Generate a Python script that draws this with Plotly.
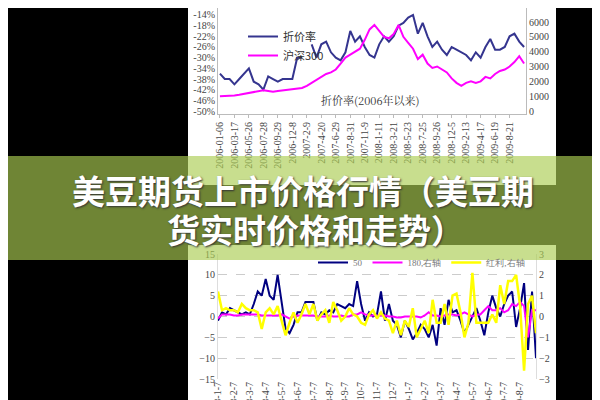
import plotly.graph_objects as go

top_ticks = ["2006-01-06","2006-03-17","2006-05-26","2006-07-28","2006-09-29","2006-12-8","2007-2-9","2007-4-20","2007-6-29","2007-8-31","2007-11-9","2008-1-11","2008-3-21","2008-5-23","2008-7-25","2008-9-26","2008-12-5","2009-2-13","2009-4-17","2009-6-19","2009-8-21"]
discount = [-36,-38,-38, -40,-38,-36, -34,-39,-40, -42,-37,-38, -39,-38,-38, -38,-30,-30,
            None,-25,-30, -25,-24,-28, -30,-31,-28, -20,-24,-22, -26,-29,-30, -25,-22,-24,
            -22,-18,-17, -15,-14,-21, -17,-22,-26, -24,-27,-29, -26,-27,-28, -29,-31,-28,
            -30,-26,-23, -27,-27,-26, -22,-21,-24, -26]
hs300 = [1000,1000,1050, 1050,1100,1150, 1200,1300,1350, 1400,1350,1300, 1350,1400,1450, 1450,1500,1550,
         1700,1900,2100, 2300,2500,2600, 2800,3200,3600, 3800,4000,4200, 4800,5500,5800, 5400,5000,4900,
         5200,5800,5000, 4600,4200,3500, 3800,3200,2900, 3000,2800,2600, 2200,1900,1700, 1900,2000,1900,
         2000,2300,2200, 2500,2700,2800, 3000,3300,3700, 3200]

bot_ticks = ["2008-1-7","2008-2-7","2008-3-7","2008-4-7","2008-5-7","2008-6-7","2008-7-7","2008-8-7","2008-9-7","2008-10-7","2008-11-7","2008-12-7","2009-1-7","2009-2-7","2009-3-7","2009-4-7","2009-5-7","2009-6-7","2009-7-7","2009-8-7"]
s50 = [-1,1,0.5,2, 1.5,1,0.5,1, 0.5,3,6,5, 9,5,4,10, 4,-3,-4,-2, 1,1,3.5,3.5, 3.5,-1,1,0.5,
       1.5,1,3,2.5, 2,3,2.5,8.5, 3,-1,1,0, 0.5,6,-1,3, -1,-2,-5,-1, -3,-5.5,-4,-2, -3,-5,-2,-7,
       2,-2,4,1, 1.5,-1,-4,-2, 0,2,-1,-4.5, 1,5,2,0, 3,5,6,-2.5, 2,8,-8,6,-10]
s180 = [-0.1,0.1,0.1,0.1, 0.05,0.05,0.1,0.1, 0.1,0.1,0.1,0.05, 0.05,0.05,0.05,0.05, 0.1,0,-0.1,0,
        0.05,0.05,0.05,0.05, 0.05,0,0,0, 0.05,0,0,0.05, 0,0,0.1,0.1, 0.2,0.1,0.05,0.05,
        0.05,0.05,0.05,0, 0,-0.05,-0.05,0, 0,0,0,-0.05, 0.05,0.2,0.05,0.05, 0,0.05,0.1,0.1,
        0.05,0.1,0.2,0.1, 0,0.1,0.1,0.3, 0.5,0.3,0.3,0.4, 0.2,0.3,0.6,0.5, 0.7,0.5,-1,0.3,0.3]
hongli = [1.2,0.3,0.4,0.3, 0.3,0.2,0.6,0.4, 0.3,0.3,0.2,-0.6, 0.2,0.4,0.1,0.5, -0.2,-0.9,-0.3,0.2,
          -0.3,0.1,0.6,0.1, 0.6,-0.2,0.1,0.3, -0.3,0.7,0.3,-0.2, 0,0.4,0.1,0, -0.3,-0.4,0.1,0.3,
          -0.1,0.2,-0.1,-0.2, -0.8,-0.2,-0.9,-0.2, -0.5,0.4,-1.0,-0.6, -0.2,-0.8,0.8,-0.3,
          -0.3,0.6,-0.4,1.0, 1.1,0.2,-1,-0.3, 2.1,-0.3,-0.3,-0.3, -0.3,0.1,-0.3,1.5,
          0.6,1.7,1.7,2.0, 0.5,-2.6,0.6,1.0,-0.8]

xt = list(range(len(discount)))
xb = list(range(len(s50)))
tf = dict(family="Liberation Serif", size=10, color="#444")
def py(p):
    return 1 - p / 400

fig = go.Figure()
fig.add_trace(go.Scatter(x=xt, y=discount, name="折价率", line=dict(color="#35358f", width=2), xaxis="x", yaxis="y", legend="legend"))
fig.add_trace(go.Scatter(x=xt, y=hs300, name="沪深300", line=dict(color="#ff00ff", width=2), xaxis="x", yaxis="y2", legend="legend"))
fig.add_trace(go.Scatter(x=xb, y=s50, name="50", line=dict(color="#000080", width=2), xaxis="x2", yaxis="y3", legend="legend2"))
fig.add_trace(go.Scatter(x=xb, y=s180, name="180,右轴", line=dict(color="#ff00ff", width=2), xaxis="x2", yaxis="y4", legend="legend2"))
fig.add_trace(go.Scatter(x=xb, y=hongli, name="红利,右轴", line=dict(color="#ffff00", width=2.5), xaxis="x2", yaxis="y4", legend="legend2"))

ax = dict(automargin=False, showgrid=False, zeroline=False, tickfont=tf)
fig.update_layout(
    width=600, height=400, margin=dict(l=0, r=0, t=0, b=0),
    paper_bgcolor="black", plot_bgcolor="rgba(0,0,0,0)",
    xaxis=dict(ax, domain=[210/600, 518/600], range=[-0.4, 63.4], tickvals=[i*3 for i in range(21)], ticktext=top_ticks,
               tickangle=-90, showline=True, linecolor="#bbb", anchor="y", ticks="outside", ticklen=3, tickcolor="#bbb"),
    yaxis=dict(ax, domain=[py(106), 1], range=[-51.1, -11.4], tickvals=list(range(-50, -9, 4)),
               ticktext=[f"{v}%" for v in range(-50, -9, 4)], showline=True, linecolor="#bbb", anchor="x"),
    yaxis2=dict(ax, overlaying="y", side="right", range=[-200, 6944], tickvals=list(range(0, 7001, 1000)),
                showline=True, linecolor="#bbb", anchor="x"),
    xaxis2=dict(ax, domain=[210/600, 528/600], range=[0, 80], tickvals=[i*4 for i in range(20)], ticktext=bot_ticks,
                tickangle=-90, anchor="y3"),
    yaxis3=dict(ax, domain=[py(371), py(246)], range=[-15, 15], dtick=5, showgrid=True, gridcolor="#ccc",
                griddash="dash", anchor="x2", showline=True, linecolor="#ddd"),
    yaxis4=dict(ax, overlaying="y3", side="right", range=[-3, 3], dtick=1, anchor="x2", showline=True, linecolor="#ddd"),
    legend=dict(x=235/600, y=py(14), xanchor="left", yanchor="top", bgcolor="rgba(0,0,0,0)",
                font=dict(family="Noto Sans CJK SC", size=11, color="#333"), tracegroupgap=0, itemwidth=30),
    legend2=dict(orientation="h", x=305/600, y=py(240), xanchor="left", yanchor="top", bgcolor="rgba(0,0,0,0)",
                 font=dict(family="Liberation Serif", size=9, color="#777")),
    showlegend=True,
)
for y0, y1 in [(0, 177), (237, 400)]:
    fig.add_shape(type="rect", xref="paper", yref="paper", x0=180/600, x1=548/600, y0=py(y1), y1=py(y0),
                  fillcolor="white", line_width=0, layer="below")
fig.add_annotation(text="折价率(2006年以来)", x=362/600, y=py(82), xref="paper", yref="paper", showarrow=False,
                   font=dict(family="Noto Serif CJK SC, Noto Sans CJK SC", size=11, color="#333"))
fig.add_shape(type="rect", xref="paper", yref="paper", x0=0, x1=1, y0=py(252), y1=py(148),
              fillcolor="rgba(171,205,82,0.65)", line_width=0, layer="above")
sh = dict(family="Noto Sans CJK SC", size=33, color="white", weight="bold", shadow="1px 1px 2px #333")
fig.add_annotation(text="美豆期货上市价格行情（美豆期", x=62/600, y=py(182), xref="paper", yref="paper",
                   xanchor="left", yanchor="middle", showarrow=False, font=sh)
fig.add_annotation(text="货实时价格和走势）", x=157/600, y=py(221), xref="paper", yref="paper",
                   xanchor="left", yanchor="middle", showarrow=False, font=sh)
fig.write_html("out.html")
